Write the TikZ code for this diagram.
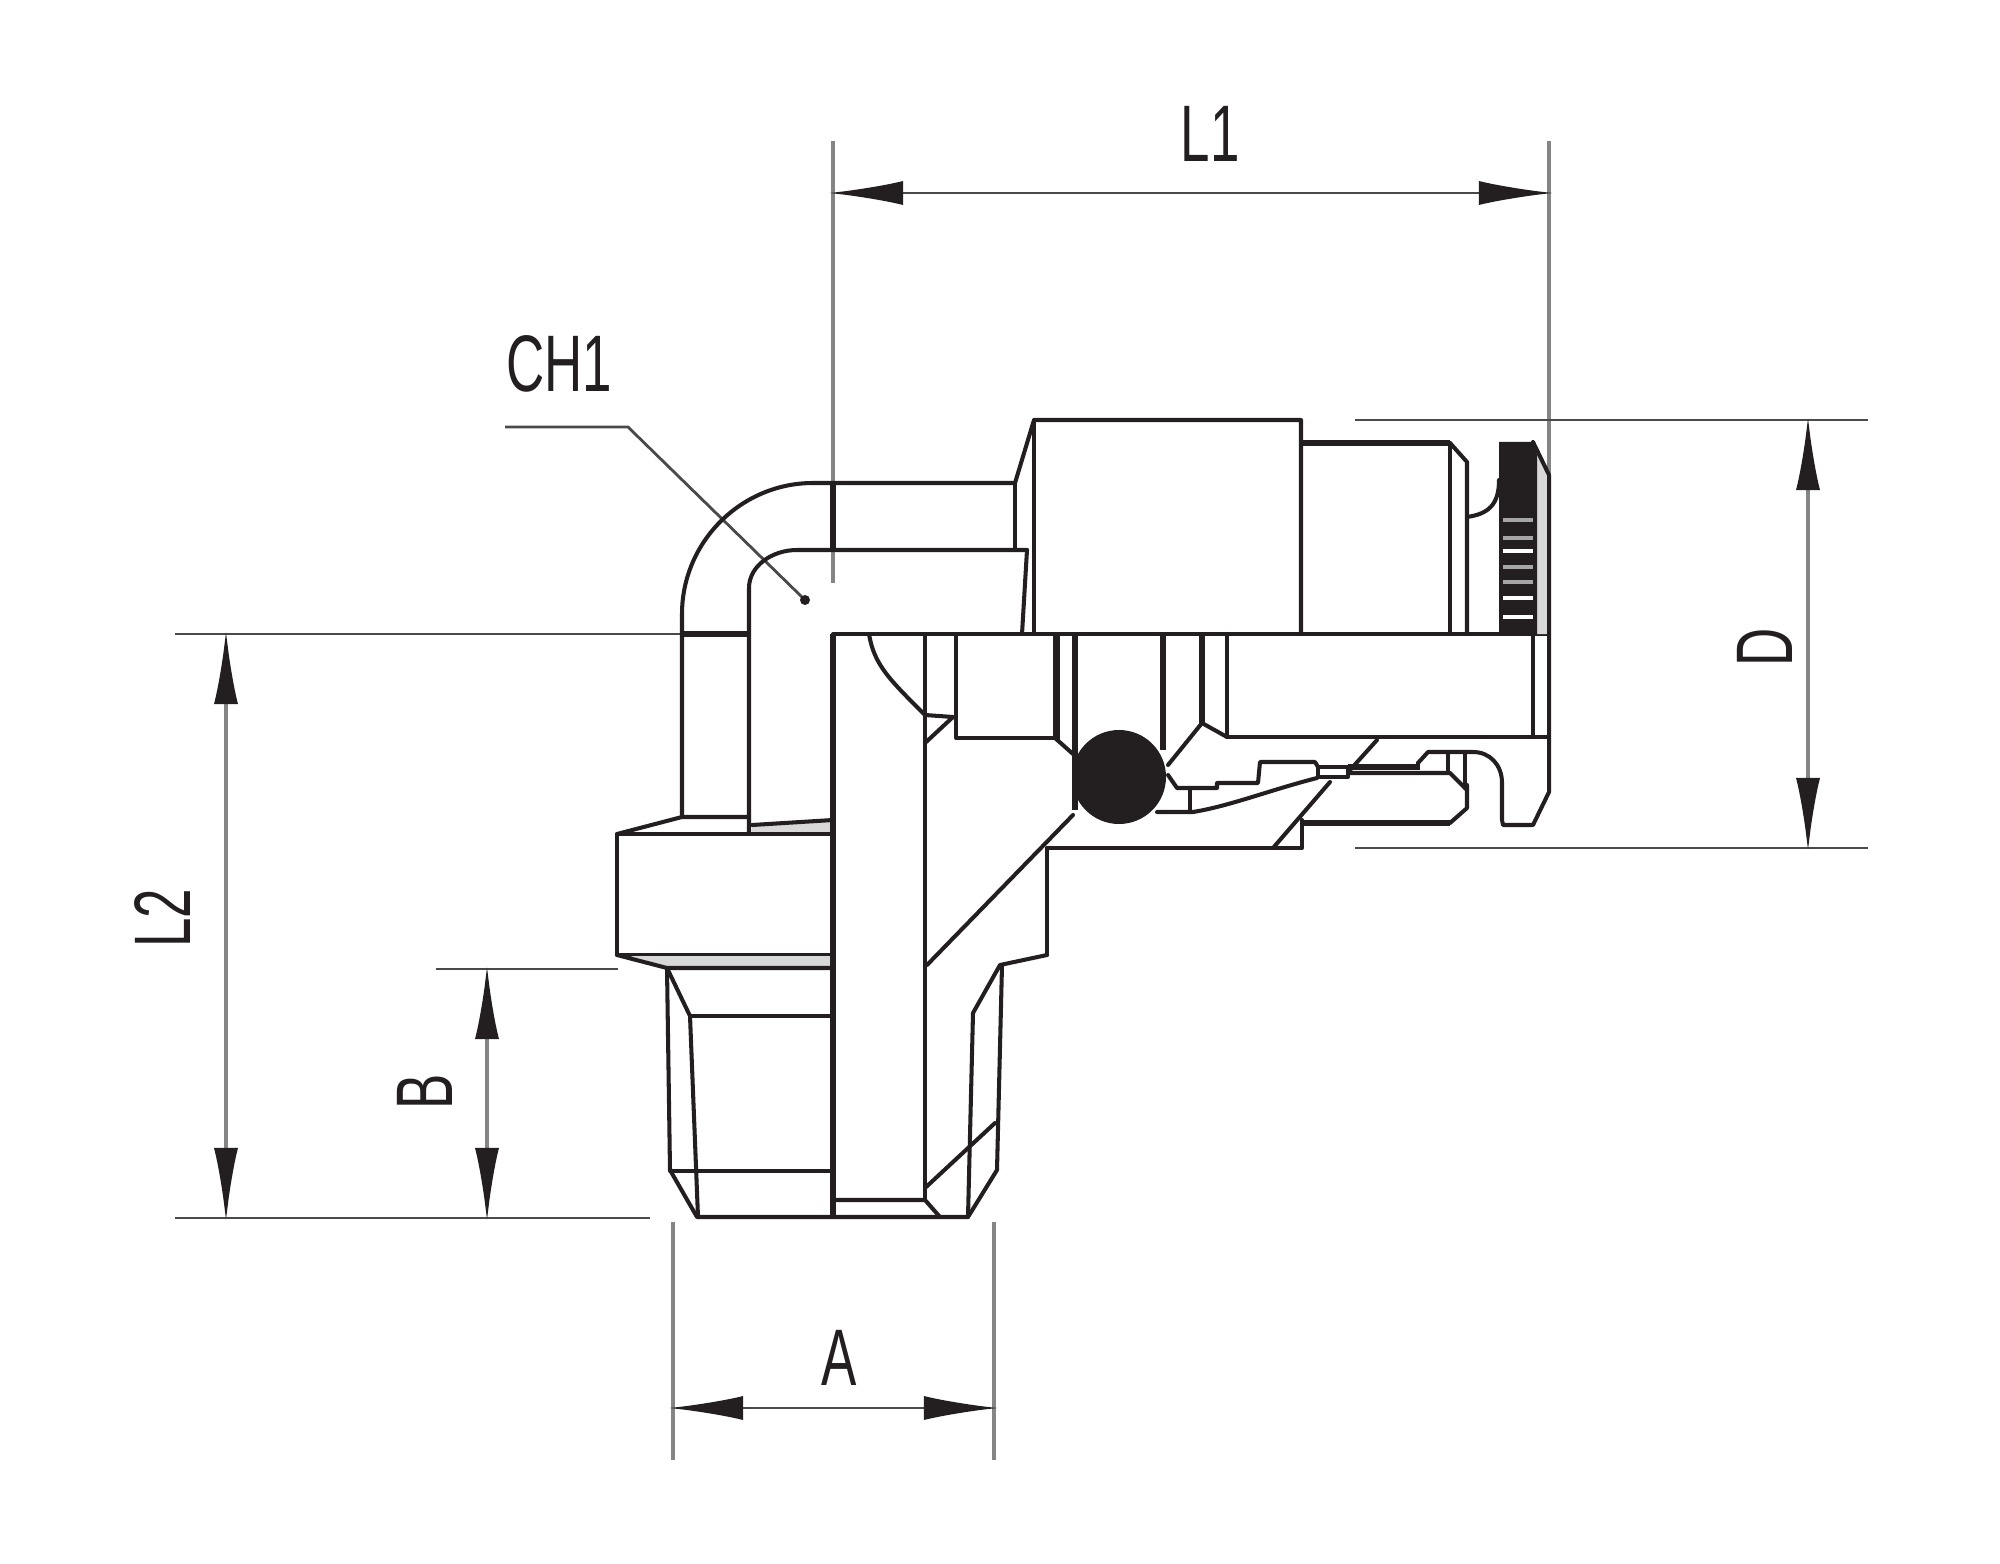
\documentclass[tikz,border=0pt]{standalone}
\usepackage{fontspec}
\usetikzlibrary{arrows.meta}
\newfontfamily\dimfont[FakeStretch=0.66]{Liberation Sans}

\begin{document}
\begin{tikzpicture}[x=0.01cm, y=-0.01cm,
  body/.style={line width=1.15pt, color=fitblack, line cap=round, line join=round},
  heavy/.style={line width=1.7pt, color=fitblack},
  extv/.style={line width=1.15pt, color=fitgrey},
  exth/.style={line width=0.8pt, color=fitdark},
  dimends/.style={{Latex[length=7.4mm,width=2.4mm,color=fitblack]}-{Latex[length=7.4mm,width=2.4mm,color=fitblack]}, shorten >=-0.4mm, shorten <=-0.4mm},
  dimlabel/.style={font=\dimfont\fontsize{22.8}{24}\selectfont, color=fitblack, inner sep=0pt}]

\definecolor{fitblack}{HTML}{231F20}
\definecolor{fitgrey}{HTML}{858585}
\definecolor{fitdark}{HTML}{4A4A4A}
\definecolor{fitshade}{HTML}{D8D8D8}

\useasboundingbox (0,0) rectangle (2000,1564);

\coordinate (l1a) at (833,193);
\coordinate (l1b) at (1549,193);
\coordinate (da) at (1808,420);
\coordinate (db) at (1808,848);
\coordinate (l2a) at (226,634);
\coordinate (l2b) at (226,1218);
\coordinate (ba) at (487,969);
\coordinate (bb) at (487,1218);
\coordinate (aa) at (673,1408);
\coordinate (ab) at (994,1408);

\draw[extv](833,141)--(833,583);
\draw[extv](1549,141)--(1549,475);
\draw[extv](673,1222)--(673,1460);
\draw[extv](994,1222)--(994,1460);
\draw[exth](1355,420)--(1868,420);
\draw[exth](1355,848)--(1868,848);
\draw[exth](175,634)--(682,634);
\draw[exth](175,1218)--(650,1218);
\draw[exth](436,969)--(618,969);

\draw[exth,dimends](l1a)--(l1b);
\draw[extv,dimends](da)--(db);
\draw[extv,dimends](l2a)--(l2b);
\draw[extv,dimends](ba)--(bb);
\draw[exth,dimends](aa)--(ab);

\node[dimlabel] (labl1) at (1210,134) {L1};
\node[dimlabel,rotate=90] (labd) at (1765,647) {D};
\node[dimlabel,rotate=90] (labl2) at (163,918) {L2};
\node[dimlabel,rotate=90] (labb) at (425,1092) {B};
\node[dimlabel] (laba) at (839,1358) {A};
\node[dimlabel] (labch) at (559,364) {CH1};

\draw[exth](505,427)--(628,427)--(805,600);
\fill[fitblack](805,600)circle(5);

\draw[body](682,817)--(682,614) .. controls (682,542) and (741,483) .. (813,483)--(1015,483);
\draw[body](749,832)--(749,588) .. controls (749,566) and (772,550) .. (797,550)--(1027,550);
\draw[heavy](682,634)--(749,634);
\draw[heavy](833,483)--(833,550);

\fill[fitshade](752,825)--(833,820)--(833,834)--(752,834)--cycle;
\draw[body](833,834)--(617,834)--(617,955)--(833,955);
\draw[body](617,834)--(682,817)--(749,817);
\draw[body](752,825)--(833,820);
\fill[fitshade](630,956)--(833,956)--(833,968)--(667,968)--cycle;
\draw[body](617,955)--(667,968)--(833,968);

\draw[heavy](833,634)--(833,1217);
\draw[body](667,968)--(670,1170)--(697,1217)--(968,1217)--(997,1170)--(1002,965);
\draw[body](667,968)--(690,1016)--(698,1217);
\draw[body](690,1016)--(833,1016);
\draw[body](670,1171)--(833,1171);
\draw[body](833,1200)--(925,1200)--(940,1217);
\draw[body](925,1188)--(995,1123);
\draw[body](1047,955)--(1000,965)--(973,1013)--(968,1217);

\draw[body](925,634)--(925,1200);
\draw[body](833,634)--(1549,634);
\draw[body](869,634) .. controls (874,665) and (890,680) .. (925,715)--(953,717)--(925,743);
\draw[body](927,965)--(1073,815);
\draw[body](1047,848)--(1047,955);

\draw[body](1015,483)--(1034,420)--(1301,420)--(1301,634);
\draw[body](1034,420)--(1034,634);
\draw[body](1015,483)--(1015,550);
\draw[body](1027,550)--(1022,634);

\draw[heavy](1301,443)--(1450,443);
\draw[body](1450,443)--(1467,462)--(1467,634);
\draw[body](1450,443)--(1450,634);
\draw[body](1467,517) .. controls (1488,514) and (1499,505) .. (1499,480);

\fill[fitshade](1537,455)--(1549,475)--(1549,634)--(1537,634)--cycle;
\fill[fitblack](1499,442)--(1533,442)--(1537,455)--(1537,634)--(1499,634)--cycle;
\draw[line width=1pt,color=white](1503,551)--(1533,551) (1503,598)--(1533,598) (1503,617)--(1533,617);
\draw[line width=0.9pt,color=gray!70](1503,520)--(1533,520) (1503,538)--(1533,538) (1503,567)--(1533,567) (1503,582)--(1533,582);
\draw[body](1533,442)--(1549,475)--(1549,792)--(1533,825)--(1503,825)--(1502,820)--(1502,783) .. controls (1502,765) and (1490,752) .. (1473,752)--(1428,752)--(1418,763);

\draw[body](956,634)--(956,738)--(1055,738)--(1055,634);
\draw[body](1055,738)--(1073,754);
\draw[body](1058,634)--(1058,740);
\draw[heavy](1075,634)--(1075,810);
\draw[heavy](1163,634)--(1163,750);
\draw[heavy](1202,634)--(1202,723);
\draw[body](1227,634)--(1227,737)--(1549,737);
\draw[body](1533,634)--(1533,737);
\draw[body](1202,723)--(1227,737);
\draw[body](1202,723)--(1168,765);

\draw[body](1168,775)--(1177,788)--(1217,788)--(1217,783)--(1258,783)--(1260,762)--(1315,762)--(1318,767);
\draw[body](1157,812)--(1193,812) .. controls (1230,806) and (1270,790) .. (1317,778);
\draw[body](1190,788)--(1190,812);
\draw[body](1318,767)rectangle(1348,777);

\draw[body](1047,848)--(1302,848)--(1302,820);
\draw[body](1273,848)--(1330,782);
\draw[body](1350,770)--(1377,740);
\draw[line width=1.8pt,color=fitblack](1348,767)--(1420,767);
\draw[body](1348,773)--(1450,773)--(1467,790);
\draw[body](1418,763)--(1418,768);
\draw[body](1448,752)--(1448,772);
\draw[body](1465,752)--(1465,788);
\draw[heavy](1302,823)--(1450,823);
\draw[body](1450,823)--(1467,808)--(1467,785);

\fill[fitblack](1119,777)circle(47);

\end{tikzpicture}
\end{document}
